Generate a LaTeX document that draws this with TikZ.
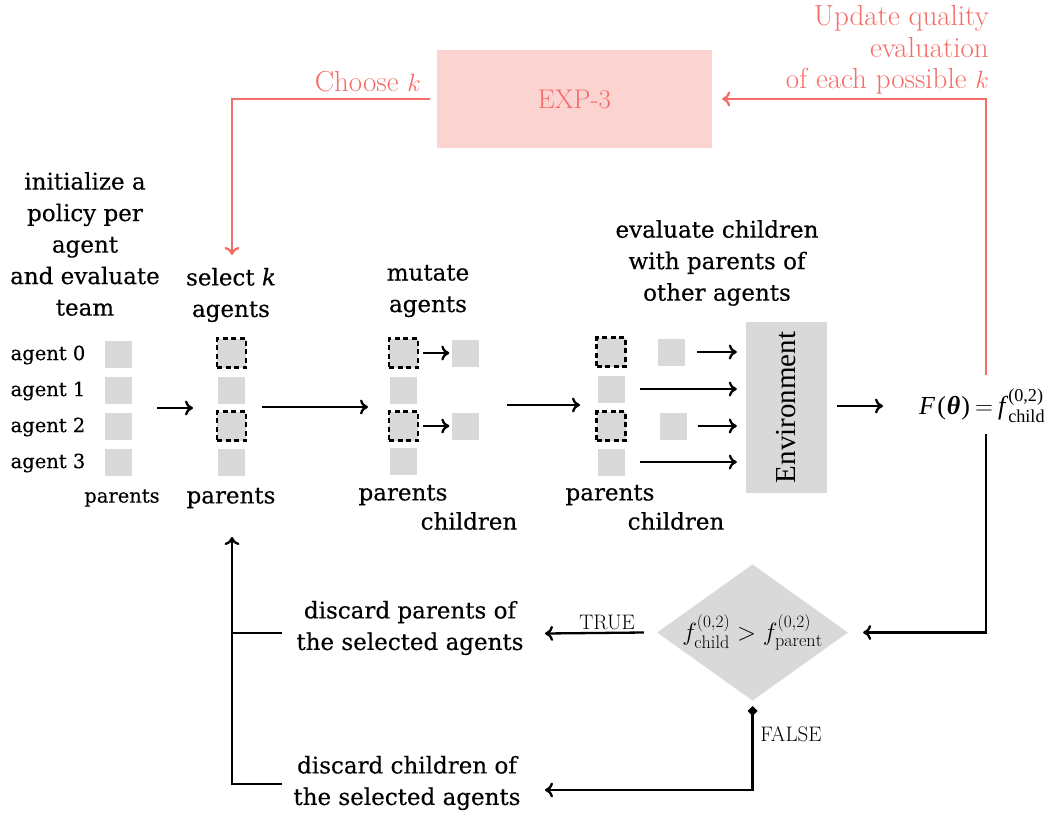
\documentclass[tikz,border=0pt]{standalone}
\usepackage{fontspec}
\usepackage{amsmath}
\newfontfamily\dv[FakeBold=0.35]{DejaVu Serif}
\newfontfamily\lib{Liberation Serif}
\usetikzlibrary{arrows.meta,shapes.geometric,calc}
\definecolor{boxgray}{RGB}{217,217,217}
\definecolor{pinkbox}{RGB}{251,211,209}
\definecolor{redc}{RGB}{245,108,104}
\begin{document}
\begin{tikzpicture}[x=1pt,y=-1pt,
 hdr/.style={font=\dv\fontsize{23}{31.5}\selectfont, align=center, inner sep=0},
 small/.style={font=\dv\fontsize{19.5}{24}\selectfont, inner sep=0},
 sq/.style={fill=boxgray, minimum size=27pt, inner sep=0},
 selsq/.style={fill=boxgray, draw=black, dash pattern=on 5pt off 3.5pt, line width=2.2pt, minimum size=29pt, inner sep=0},
 arr/.style={-{To[length=8pt,width=15pt]}, line width=2.3pt},
 redarr/.style={arr, draw=redc},
 lm/.style={font=\fontsize{21}{25}\selectfont, inner sep=0},
 redtxt/.style={text=redc, font=\fontsize{29}{31.5}\selectfont\addfontfeature{FakeBold=0.4}, inner sep=0},
]
\useasboundingbox (0,0) rectangle (1059,816);

% left column
\node[hdr] (init) at (85,244) {initialize a\\policy per\\agent\\and evaluate\\team};
\node[small] (lab0) at (48,355) {agent 0};
\node[small] (lab1) at (48,391) {agent 1};
\node[small] (lab2) at (48,427) {agent 2};
\node[small] (lab3) at (48,463) {agent 3};
\node[sq] (p0) at (118.5,354.5) {};
\node[sq] (p1) at (118.5,390) {};
\node[sq] (p2) at (118.5,426) {};
\node[sq] (p3) at (118.5,462.5) {};
\node[small] (lpar) at (122,498) {parents};

% select column
\node[hdr] (selh) at (231,295) {select \textit{k}\\agents};
\node[selsq] (s0) at (231.5,353) {};
\node[sq] (s1) at (231.5,390) {};
\node[selsq] (s2) at (231.5,426) {};
\node[sq] (s3) at (231.5,462) {};
\node[hdr] (spar) at (231,498) {parents};

% mutate column
\node[hdr] (muth) at (428,291) {mutate\\agents};
\node[selsq] (m0) at (403.5,353) {};
\node[sq] (m1) at (403.5,390) {};
\node[selsq] (m2) at (403.5,426) {};
\node[sq] (m3) at (403.5,461) {};
\node[sq] (mc0) at (465,353) {};
\node[sq] (mc2) at (465,426) {};
\node[hdr] (mpar) at (403,495) {parents};
\node[hdr] (mch) at (469,521) {children};
\draw[arr, shorten <=4pt, shorten >=2pt] (m0) -- (mc0);
\draw[arr, shorten <=4pt, shorten >=2pt] (m2) -- (mc2);

% evaluate column
\node[hdr] (evh) at (717,263) {evaluate children\\with parents of\\other agents};
\node[selsq] (e0) at (611,352) {};
\node[sq] (e1) at (611,389) {};
\node[selsq] (e2) at (611,426) {};
\node[sq] (e3) at (611,462) {};
\node[sq] (ec0) at (671.5,352) {};
\node[sq] (ec2) at (673,426) {};
\node[hdr] (epar) at (610,495) {parents};
\node[hdr] (ech) at (676,521) {children};

% environment
\node[fill=boxgray, minimum width=81pt, minimum height=171pt, inner sep=0] (env) at (786.5,407.5) {};
\node[rotate=90, inner sep=0, font=\lib\fontsize{29}{30}\selectfont] (envt) at (env) {Environment};

\draw[arr, shorten >=9pt] ([xshift=12pt]ec0.east) -- (ec0.east -| env.west);
\draw[arr, shorten >=9pt] ([xshift=15pt]e1.east) -- (e1.east -| env.west);
\draw[arr, shorten >=9pt] ([xshift=11pt]ec2.east) -- (ec2.east -| env.west);
\draw[arr, shorten >=9pt] ([xshift=15pt]e3.east) -- (e3.east -| env.west);

% main flow arrows
\coordinate (a1s) at (157,408);
\coordinate (a1e) at (193,408);
\coordinate (a2s) at (262,407);
\coordinate (a2e) at (368,407);
\coordinate (a3s) at (507,405);
\coordinate (a3e) at (580,405);
\draw[arr] (a1s) -- (a1e);
\draw[arr] (a2s) -- (a2e);
\draw[arr] (a3s) -- (a3e);

% F(theta)
\node[anchor=west, inner sep=0, font=\lib\fontsize{26}{30}\selectfont] (F) at (919,406)
  {\textit{F}\kern2pt(\kern1pt\textbf{\textit{θ}}\kern1pt)\kern5pt$=$\kern5pt\textit{f}$^{\text{(0,2)}}_{\text{child}}$};
\coordinate (f1) at (837,406);
\coordinate (f2) at (883,406);
\draw[arr] (f1) -- (f2);

% EXP-3
\node[fill=pinkbox, minimum width=275pt, minimum height=98pt, inner sep=0, text=redc, font=\fontsize{27}{30}\selectfont\addfontfeature{FakeBold=0.4}] (exp) at (574.5,99) {EXP-3};
\node[redtxt, anchor=east] (ch) at (421,82) {Choose $k$};
\node[redtxt, align=right, anchor=east] (upd) at (989,50) {Update quality\\evaluation\\of each possible $k$};
\coordinate (Ftop) at (986,375);
\coordinate (selin) at (232,255);
\draw[redarr, shorten >=10pt] (Ftop) |- (exp.east);
\draw[redarr] ([xshift=-7pt]exp.west) -| (selin);

% decision
\node[diamond, aspect=1.4, fill=boxgray, minimum width=189pt, minimum height=135pt, inner sep=0, font=\fontsize{26}{30}\selectfont] (dia) at (752.5,632.5)
  {$f^{(0,2)}_{\mathrm{child}} > f^{(0,2)}_{\mathrm{parent}}$};
\coordinate (Fbot) at (986,434);
\draw[arr, shorten >=15pt] (Fbot) |- (dia.east);

\node[hdr] (dp) at (410,628) {discard parents of\\the selected agents};
\node[hdr] (dc) at (407,783) {discard children of\\the selected agents};

\coordinate (ttip) at (545,633.5);
\draw[arr] ([xshift=-13pt]dia.west) -- (ttip);
\node[lm] (tl) at (607,622) {TRUE};

\coordinate (fst) at (752.5,706);
\coordinate (ftip) at (545,790);
\draw[{Diamond[length=10pt,width=10pt]}-{To[length=8pt,width=15pt]}, line width=2.3pt] (fst) |- (ftip);
\node[lm] (fl) at (791,734) {FALSE};

% feedback to parents
\coordinate (dpl) at (282,633);
\coordinate (dcl) at (282,784);
\coordinate (jn) at (232,633);
\coordinate (up) at (232,537);
\draw[line width=2.3pt] (dpl) -- (jn);
\draw[arr] (dcl) -| (up);
\end{tikzpicture}
\end{document}
